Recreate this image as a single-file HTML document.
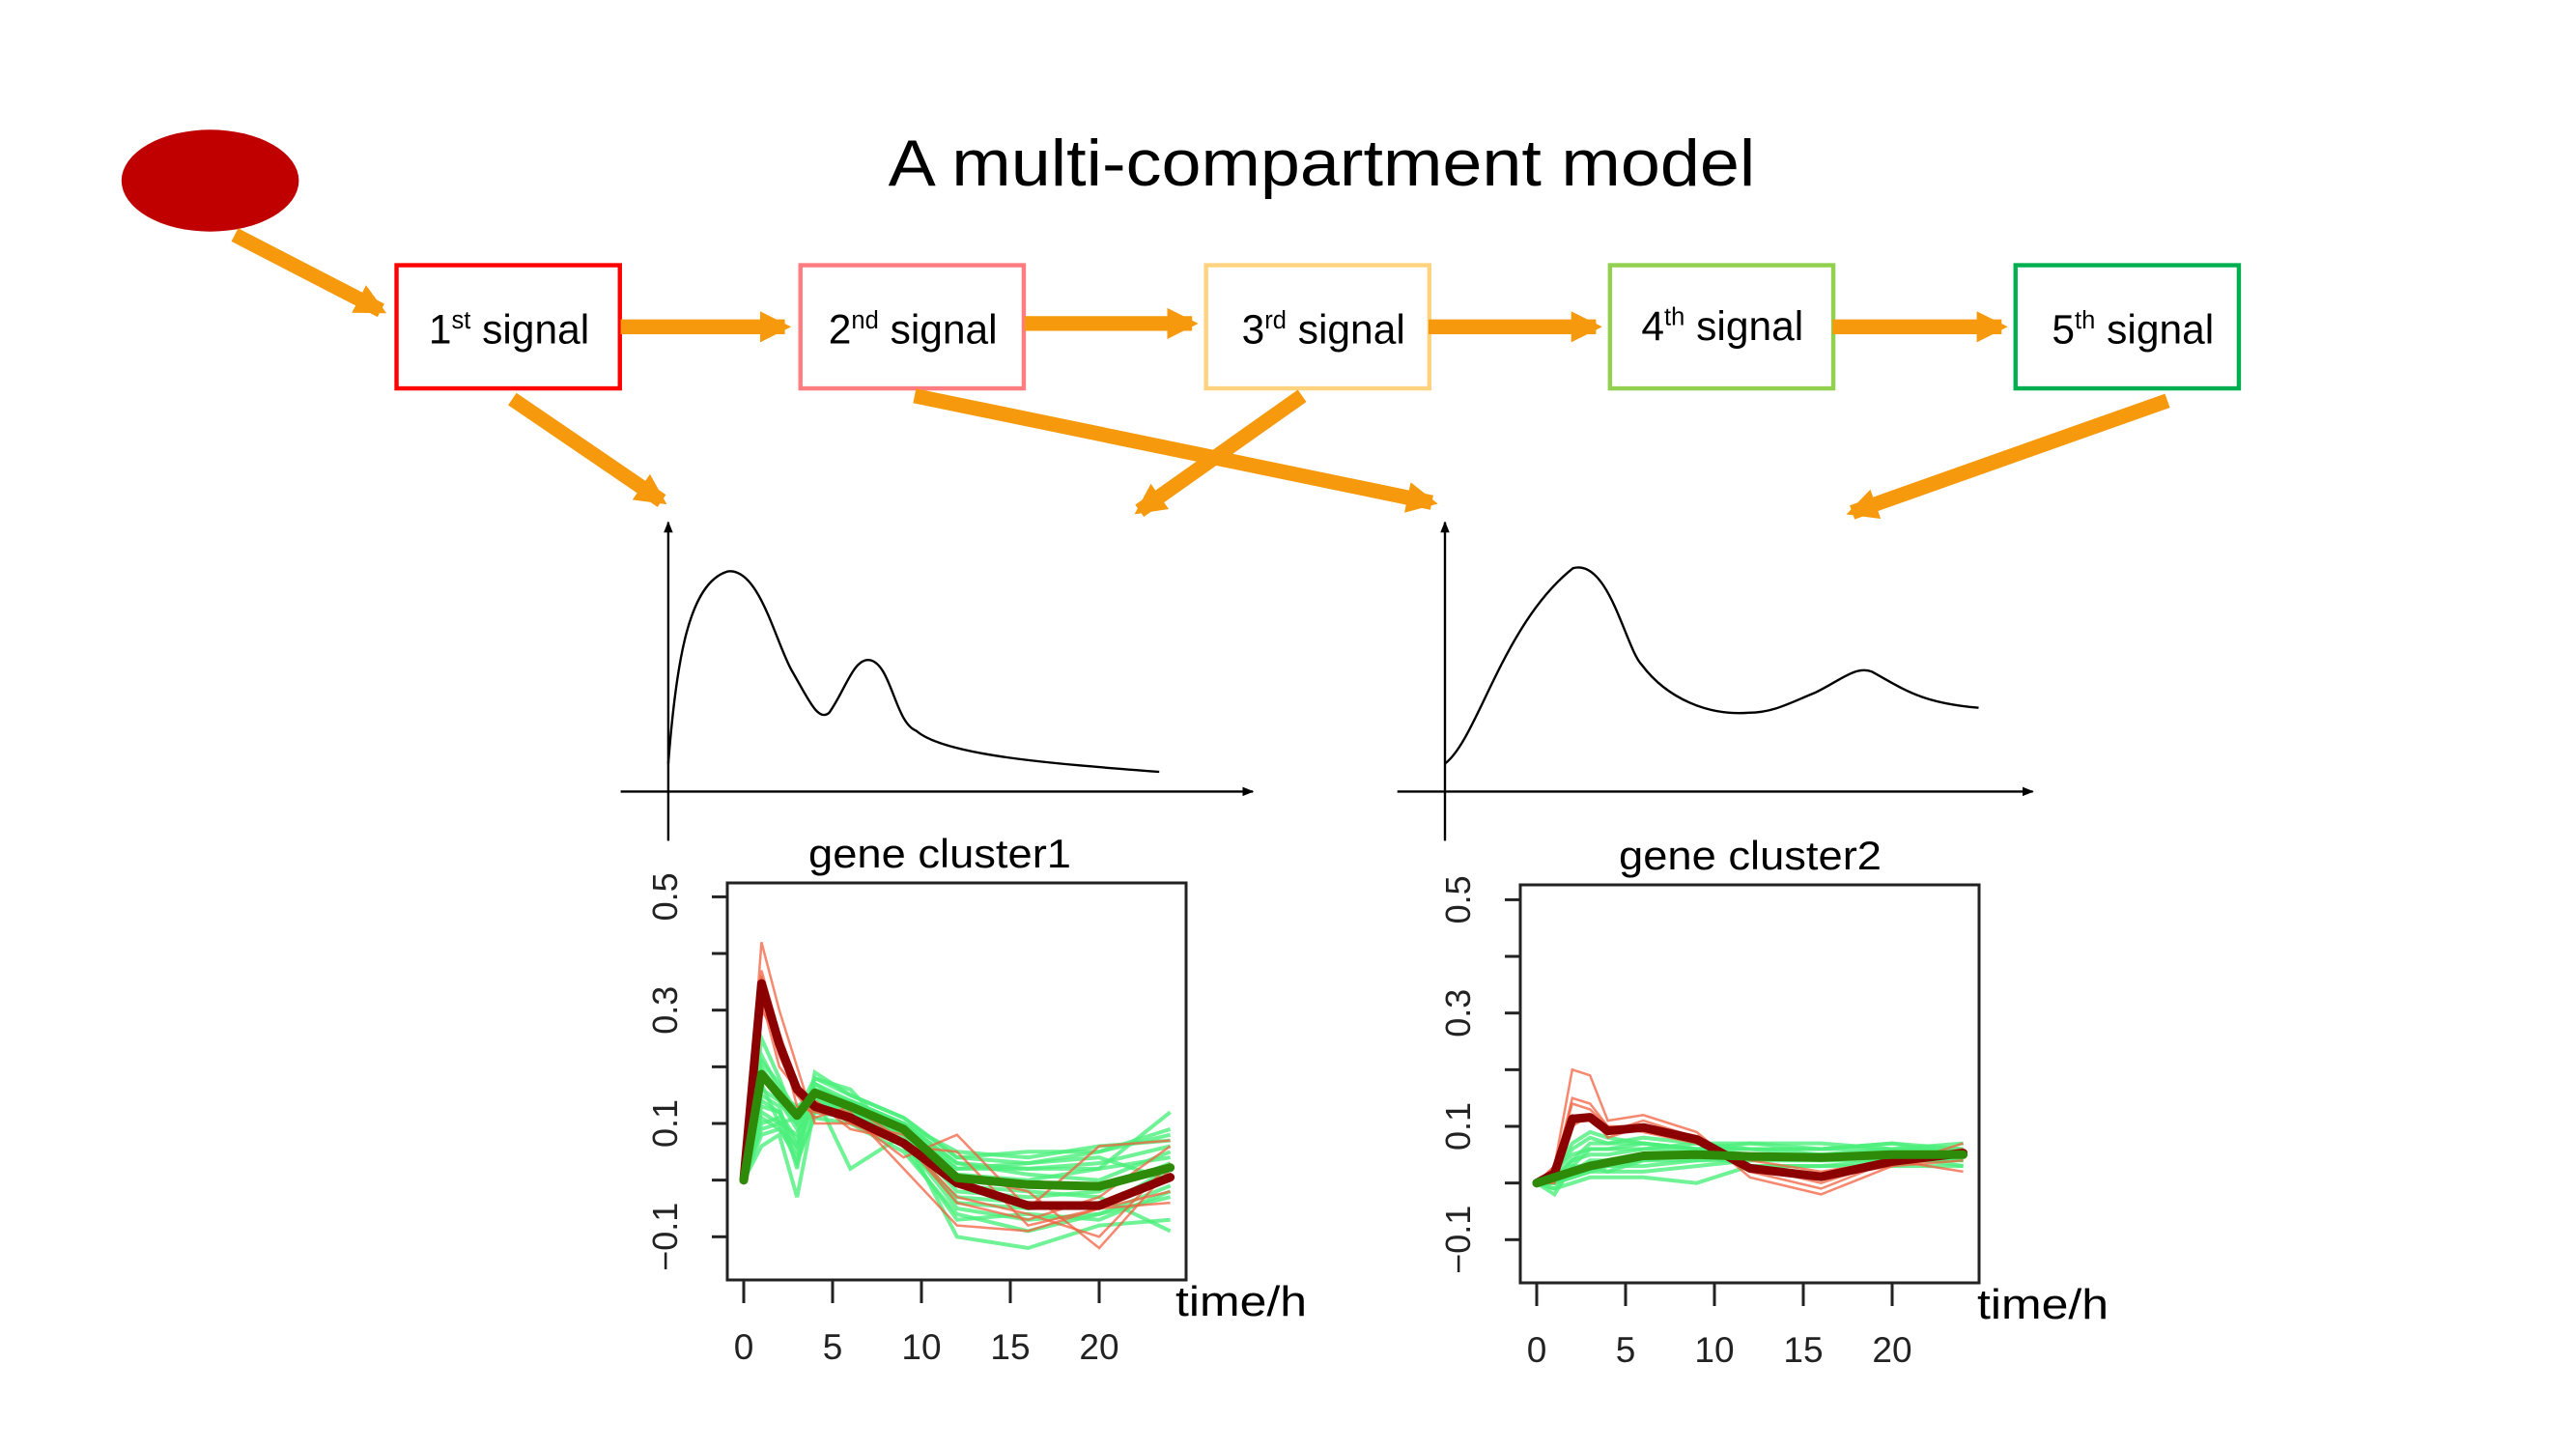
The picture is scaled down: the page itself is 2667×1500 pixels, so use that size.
<!DOCTYPE html>
<html><head><meta charset="utf-8"><style>
html,body{margin:0;padding:0;background:#fff}
svg{display:block;font-family:"Liberation Sans",sans-serif}
</style></head><body>
<svg id="root" width="2667" height="1500" viewBox="0 0 2667 1500" xmlns="http://www.w3.org/2000/svg">
<defs>
<marker id="ah" viewBox="0 0 10 10" refX="8" refY="5" markerWidth="2.1" markerHeight="2.1" orient="auto" markerUnits="strokeWidth"><path d="M0,0 L10,5 L0,10 z" fill="#F7990C"/></marker>
<marker id="bh" viewBox="0 0 10 10" refX="9" refY="5" markerWidth="7" markerHeight="7" orient="auto" markerUnits="userSpaceOnUse"><path d="M0,1 L10,5 L0,9 z" fill="#000"/></marker>
<clipPath id="c1"><rect x="753" y="914" width="475" height="411"/></clipPath>
<clipPath id="c2"><rect x="1574" y="916" width="475" height="412"/></clipPath>
</defs>
<g transform="scale(1.70)">
<text x="805" y="113" font-size="40" text-anchor="middle" textLength="528" lengthAdjust="spacingAndGlyphs">A multi-compartment model</text>
<ellipse cx="128" cy="110" rx="54" ry="31" fill="#C00000"/>
<g fill="none" stroke-width="2.6">
<rect x="241.5" y="161.5" width="136" height="75" stroke="#FF0000"/>
<rect x="487.5" y="161.5" width="136" height="75" stroke="#FF7C80"/>
<rect x="734.5" y="161.5" width="136" height="75" stroke="#FFD37F"/>
<rect x="980.5" y="161.5" width="136" height="75" stroke="#92D050"/>
<rect x="1227.5" y="161.5" width="136" height="75" stroke="#00B050"/>
</g>
<g font-size="25" text-anchor="middle">
<text x="310" y="209">1<tspan font-size="15" dy="-9">st</tspan><tspan dy="9"> signal</tspan></text>
<text x="556" y="209">2<tspan font-size="15" dy="-9">nd</tspan><tspan dy="9"> signal</tspan></text>
<text x="806" y="209">3<tspan font-size="15" dy="-9">rd</tspan><tspan dy="9"> signal</tspan></text>
<text x="1049" y="207">4<tspan font-size="15" dy="-9">th</tspan><tspan dy="9"> signal</tspan></text>
<text x="1299" y="209">5<tspan font-size="15" dy="-9">th</tspan><tspan dy="9"> signal</tspan></text>
</g>
<g stroke="#F7990C" stroke-width="9" marker-end="url(#ah)" fill="none">
<line x1="143" y1="143" x2="232" y2="189"/>
<line x1="378" y1="199" x2="478" y2="199"/>
<line x1="624" y1="197" x2="726" y2="197"/>
<line x1="870" y1="199" x2="972" y2="199"/>
<line x1="1116" y1="199" x2="1219" y2="199"/>
<line x1="312" y1="243" x2="403" y2="305"/>
<line x1="557" y1="241" x2="872" y2="306"/>
<line x1="793" y1="241" x2="694" y2="311"/>
<line x1="1320" y1="244" x2="1128" y2="312"/>
</g>
<g stroke="#000" stroke-width="1.4" fill="none">
<line x1="407" y1="512" x2="407" y2="318" marker-end="url(#bh)"/>
<line x1="378" y1="482" x2="763" y2="482" marker-end="url(#bh)"/>
<path d="M407,465 C412,400 420,355 443,348 C462,345 472,390 482,408 C492,425 498,440 505,434 C515,420 520,400 530,402 C543,405 545,440 558,445 C575,460 640,465 706,470"/>
<line x1="880" y1="512" x2="880" y2="318" marker-end="url(#bh)"/>
<line x1="851" y1="482" x2="1238" y2="482" marker-end="url(#bh)"/>
<path d="M880,465 C900,450 915,380 958,346 C980,340 990,395 1000,405 C1015,425 1040,436 1065,434 C1080,434 1090,428 1105,422 C1120,415 1130,405 1140,409 C1160,420 1170,428 1205,431"/>
</g>
</g>
<g id="charts"></g>
</svg>
<script>
const times = [0,1,2,3,4,6,9,12,16,20,24];
const xTicks = [0,5,10,15,20];
const yTickLabels = [0.5,0.3,0.1,-0.1];
const yMinor = [0.4,0.2,0.0];
const c1RedMean = [0,0.347,0.24,0.16,0.13,0.11,0.065,-0.005,-0.045,-0.045,0.005];
const c1GreenMean = [0,0.187,0.15,0.114,0.154,0.13,0.09,0.004,-0.008,-0.011,0.022];
const c1Green = [
[0,0.12,0.1,0.08,0.17,0.14,0.1,0.03,0.02,0.03,0.06],
[0,0.25,0.18,0.1,0.14,0.12,0.08,-0.02,-0.03,-0.02,0.03],
[0,0.15,0.13,0.02,0.19,0.15,0.11,0.04,0.05,0.05,0.09],
[0,0.06,0.08,-0.03,0.13,0.11,0.07,-0.05,-0.07,-0.06,-0.01],
[0,0.22,0.16,0.12,0.16,0.13,0.09,0.01,0.0,0.02,0.12],
[0,0.1,0.11,0.05,0.15,0.02,0.08,-0.1,-0.12,-0.08,-0.07],
[0,0.19,0.14,0.09,0.12,0.14,0.1,0.03,0.01,0.0,0.05],
[0,0.14,0.12,0.07,0.18,0.16,0.06,-0.03,-0.04,-0.05,0.02],
[0,0.17,0.1,0.11,0.14,0.12,0.1,0.05,0.04,0.06,0.07],
[0,0.08,0.09,0.04,0.11,0.1,0.05,-0.06,-0.09,-0.06,-0.03],
[0,0.2,0.15,0.13,0.15,0.11,0.09,0.02,0.03,0.04,0.0],
[0,0.13,0.12,0.06,0.17,0.13,0.07,-0.01,-0.02,-0.03,-0.09],
[0,0.16,0.14,0.1,0.16,0.14,0.1,0.02,0.02,0.02,0.04],
[0,0.11,0.09,0.06,0.13,0.12,0.08,-0.04,-0.05,-0.04,0.0],
[0,0.21,0.17,0.12,0.18,0.15,0.11,0.04,0.03,0.05,0.08],
[0,0.09,0.1,0.03,0.12,0.11,0.06,-0.07,-0.06,-0.07,-0.02]];
const c1Red = [
[0,0.42,0.3,0.2,0.1,0.1,0.06,0.05,-0.08,-0.05,-0.02],
[0,0.33,0.22,0.15,0.14,0.09,0.07,-0.03,-0.06,-0.1,0.03],
[0,0.3,0.25,0.13,0.12,0.11,0.04,0.08,-0.05,0.06,0.07],
[0,0.37,0.26,0.17,0.13,0.12,0.02,-0.08,-0.09,-0.05,-0.04],
[0,0.32,0.2,0.16,0.14,0.1,0.08,0.01,-0.02,-0.12,0.02],
[0,0.36,0.23,0.15,0.11,0.13,0.07,-0.04,-0.07,-0.03,0.06]];
const c2RedMean = [0,0.017,0.113,0.116,0.092,0.098,0.077,0.026,0.011,0.038,0.053];
const c2GreenMean = [0,0.01,0.02,0.03,0.036,0.048,0.05,0.047,0.045,0.05,0.05];
const c2Green = [
[0,-0.02,0.03,0.06,0.06,0.07,0.06,0.06,0.06,0.07,0.06],
[0,0.0,0.01,0.02,0.03,0.03,0.04,0.04,0.04,0.04,0.04],
[0,0.02,0.06,0.08,0.07,0.07,0.06,0.06,0.05,0.06,0.07],
[0,-0.01,0.0,0.01,0.01,0.01,0.0,0.03,0.03,0.03,0.03],
[0,0.01,0.04,0.05,0.05,0.06,0.06,0.07,0.06,0.06,0.05],
[0,0.0,0.02,0.04,0.04,0.05,0.05,0.05,0.04,0.05,0.04],
[0,0.01,0.03,0.03,0.02,0.02,0.03,0.04,0.05,0.04,0.06],
[0,0.02,0.05,0.06,0.06,0.06,0.07,0.06,0.06,0.07,0.05],
[0,0.0,0.01,0.02,0.02,0.04,0.04,0.05,0.05,0.05,0.03],
[0,0.01,0.04,0.07,0.07,0.08,0.07,0.07,0.07,0.06,0.06],
[0,-0.01,0.02,0.03,0.03,0.04,0.05,0.03,0.03,0.04,0.05],
[0,0.02,0.07,0.09,0.08,0.07,0.06,0.05,0.05,0.05,0.04]];
const c2Red = [
[0,0.03,0.2,0.19,0.11,0.12,0.09,0.01,-0.02,0.03,0.07],
[0,0.02,0.15,0.14,0.1,0.1,0.08,0.03,0.0,0.04,0.05],
[0,0.01,0.12,0.11,0.09,0.11,0.08,0.02,0.01,0.03,0.04],
[0,0.03,0.14,0.13,0.1,0.09,0.07,0.04,0.02,0.04,0.06],
[0,0.0,0.1,0.12,0.08,0.1,0.08,0.02,-0.01,0.04,0.02]];

const NS='http://www.w3.org/2000/svg';
const host=document.getElementById('charts');
function mk(tag,attrs,parent){const e=document.createElementNS(NS,tag);for(const k in attrs)e.setAttribute(k,attrs[k]);(parent||host).appendChild(e);return e;}

function drawChart(cfg){
  const g=mk('g',{});
  
  
  const xs=t=>cfg.x0+t*cfg.xu;
  const ys=v=>cfg.y01-(v-0.1)*cfg.yu;
  const pts=arr=>arr.map((v,i)=>xs(times[i]).toFixed(1)+','+ys(v).toFixed(1)).join(' ');
  const lines=mk('g',{'clip-path':'url(#'+cfg.clip+')'},g);
  cfg.green.forEach(s=>{const p=mk('polyline',{points:pts(s),fill:'none',stroke:'#4CEF7C','stroke-width':4,'stroke-opacity':0.8},lines);
    
    });
  cfg.red.forEach(s=>{const p=mk('polyline',{points:pts(s),fill:'none',stroke:'#F2603F','stroke-width':2.5,'stroke-opacity':0.75},lines);
    
    });
  const rm=mk('polyline',{points:pts(cfg.redMean),fill:'none',stroke:'#8B0000','stroke-width':9,'stroke-linejoin':'round','stroke-linecap':'round'},lines);
  
  
  const gm=mk('polyline',{points:pts(cfg.greenMean),fill:'none',stroke:'#2E8B0A','stroke-width':9,'stroke-linejoin':'round','stroke-linecap':'round'},lines);
  
  
  const box=mk('rect',{x:cfg.bx,y:cfg.by,width:cfg.bw,height:cfg.bh,fill:'none',stroke:'#222','stroke-width':3},g);
  
  
  yTickLabels.concat(yMinor).forEach(v=>{const t=mk('line',{x1:cfg.bx-16,x2:cfg.bx,y1:ys(v),y2:ys(v),stroke:'#222','stroke-width':3},g);
    
    });
  yTickLabels.forEach(v=>{const y=ys(v);const tx=mk('text',{x:0,y:0,'font-size':36,'text-anchor':'middle',fill:'#222',transform:'translate('+(cfg.bx-52)+','+y+') rotate(-90)'},g);
    tx.textContent=(v<0?'\u2212'+Math.abs(v):String(v));
    
    });
  xTicks.forEach(t=>{const x=xs(t);const l=mk('line',{x1:x,x2:x,y1:cfg.by+cfg.bh,y2:cfg.by+cfg.bh+24,stroke:'#222','stroke-width':3},g);
    
    
    const tx=mk('text',{x:x,y:cfg.by+cfg.bh+82,'font-size':37,'text-anchor':'middle',fill:'#222'},g);
    tx.textContent=String(t);
    
    });
  const ti=mk('text',{x:cfg.titleX,y:cfg.titleY,'font-size':42,'text-anchor':'middle',textLength:272,lengthAdjust:'spacingAndGlyphs'},g);
  ti.textContent=cfg.title;
  
  
  const xl=mk('text',{x:cfg.xlabX,y:cfg.by+cfg.bh+37,'font-size':44,textLength:136,lengthAdjust:'spacingAndGlyphs'},g);
  xl.textContent='time/h';
  
  
}
drawChart({name:'gene-cluster1-chart',clip:'c1',x0:770,xu:18.4,y01:1163,yu:586.5,bx:753,by:914,bw:475,bh:411,
  green:c1Green,red:c1Red,redMean:c1RedMean,greenMean:c1GreenMean,title:'gene cluster1',titleX:973,titleY:898,xlabX:1217});
drawChart({name:'gene-cluster2-chart',clip:'c2',x0:1591,xu:18.4,y01:1166,yu:586.5,bx:1574,by:916,bw:475,bh:412,
  green:c2Green,red:c2Red,redMean:c2RedMean,greenMean:c2GreenMean,title:'gene cluster2',titleX:1812,titleY:900,xlabX:2047});
</script>
</body></html>
